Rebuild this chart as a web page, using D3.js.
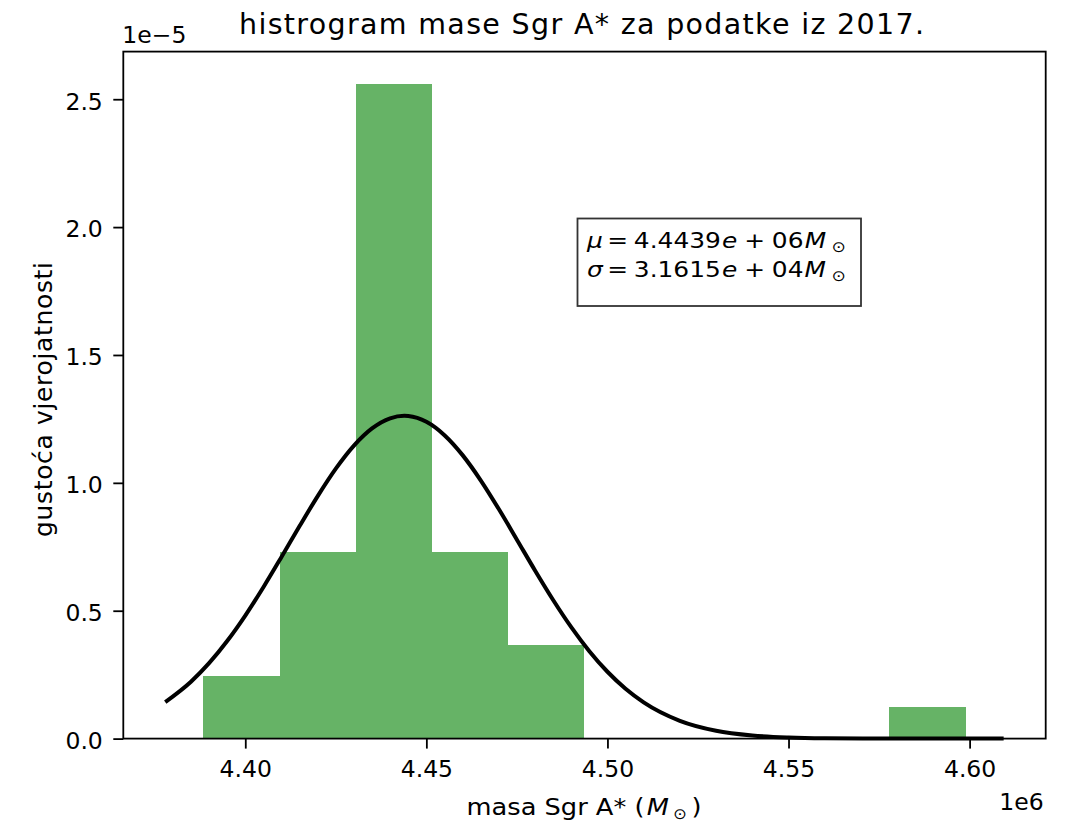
<!DOCTYPE html>
<html>
<head>
<meta charset="utf-8">
<script src="https://cdn.jsdelivr.net/npm/d3@7"></script>
<style>
  body { margin: 0; background: #fff; }
  text { font-family: "DejaVu Sans", sans-serif; fill: #000; }
</style>
</head>
<body>
<div id="chart"></div>
<script>
// histogram (density) of Sgr A* mass, x in units of 1e6 M_sun, y in units of 1e-5
const binEdges = [4.38842, 4.40947, 4.43052, 4.45156, 4.47261, 4.49366,
                  4.51471, 4.53576, 4.55680, 4.57785, 4.59890];
const density  = [0.2436, 0.7308, 2.5583, 0.7308, 0.3654, 0, 0, 0, 0, 0.1218];

// fitted normal curve
const curveX = [4.3779, 4.385, 4.390, 4.395, 4.400, 4.405, 4.410, 4.415, 4.420, 4.425,
                4.430, 4.435, 4.440, 4.4439, 4.445, 4.450, 4.455, 4.460, 4.465, 4.470,
                4.475, 4.480, 4.485, 4.490, 4.495, 4.500, 4.505, 4.510, 4.520, 4.530,
                4.540, 4.550, 4.560, 4.580, 4.6094];
const curveY = [0.1429, 0.2225, 0.2950, 0.3815, 0.4812, 0.5920, 0.7102, 0.8310, 0.9482, 1.0555,
                1.1457, 1.2128, 1.2523, 1.2619, 1.2611, 1.2387, 1.1864, 1.1084, 1.0100, 0.8975,
                0.7779, 0.6575, 0.5421, 0.4359, 0.3418, 0.2614, 0.1950, 0.1418, 0.0697, 0.0309,
                0.0124, 0.0045, 0.0015, 0.0001, 0.0000];

const xTicks = [4.40, 4.45, 4.50, 4.55, 4.60];
const yTicks = [0.0, 0.5, 1.0, 1.5, 2.0, 2.5];

const statLines = [
  { sym: "μ", num: "4.4439", exp: "06" },
  { sym: "σ", num: "3.1615", exp: "04" }
];

const width = 1069;
const height = 827;
const plot = { left: 123.3, right: 1045.7, top: 51.6, bottom: 738.6 };
const fs = 23.5;

const svg = d3.select("#chart")
  .append("svg")
  .attr("width", width)
  .attr("height", height);

const x = d3.scaleLinear()
  .domain([4.36632, 4.62101])
  .range([plot.left, plot.right]);

const y = d3.scaleLinear()
  .domain([0, 2.6862])
  .range([plot.bottom, plot.top]);

// lays out a row of text pieces one after another (mathtext-like),
// then stretches the row horizontally to the wanted width
function mathRow(x0, y0, parts, targetW) {
  const g = svg.append("g");
  let cx = x0;
  parts.forEach(p => {
    cx += p.gap || 0;
    const t = g.append("text")
      .attr("x", cx)
      .attr("y", y0 + (p.dy || 0))
      .style("font-size", p.size + "px")
      .style("font-style", p.italic ? "italic" : "normal")
      .text(p.t);
    cx += t.node().getComputedTextLength();
  });
  if (targetW) {
    const s = targetW / (cx - x0);
    g.attr("transform", `translate(${x0},0) scale(${s},1) translate(${-x0},0)`);
  }
}

// bars
const bins = density.map((v, i) => ({ x0: binEdges[i], x1: binEdges[i + 1], v }));
svg.append("g")
  .attr("shape-rendering", "crispEdges")
  .selectAll("rect")
  .data(bins.filter(d => d.v > 0))
  .join("rect")
  .attr("x", d => x(d.x0))
  .attr("width", d => x(d.x1) - x(d.x0))
  .attr("y", d => y(d.v))
  .attr("height", d => y(0) - y(d.v))
  .attr("fill", "#008000")
  .attr("fill-opacity", 0.6);

// normal curve
const pts = curveX.map((v, i) => [v, curveY[i]]);
svg.append("path")
  .datum(pts)
  .attr("fill", "none")
  .attr("stroke", "#000")
  .attr("stroke-width", 4)
  .attr("stroke-linejoin", "round")
  .attr("d", d3.line().x(d => x(d[0])).y(d => y(d[1])).curve(d3.curveMonotoneX));

// axes
const xAxis = svg.append("g")
  .attr("transform", `translate(0,${plot.bottom})`)
  .call(d3.axisBottom(x).tickValues(xTicks).tickSize(10).tickFormat(d => d.toFixed(2)));
xAxis.select(".domain").remove();
xAxis.selectAll(".tick line").attr("stroke", "#000").attr("stroke-width", 1.8);
xAxis.selectAll(".tick text")
  .attr("y", 38.2)
  .attr("dy", null)
  .style("font-size", fs + "px");

const yAxis = svg.append("g")
  .attr("transform", `translate(${plot.left},0)`)
  .call(d3.axisLeft(y).tickValues(yTicks).tickSize(10).tickFormat(d => d.toFixed(1)));
yAxis.select(".domain").remove();
yAxis.selectAll(".tick line").attr("stroke", "#000").attr("stroke-width", 1.8);
yAxis.selectAll(".tick text")
  .attr("x", -20.5)
  .attr("dy", "0.42em")
  .style("font-size", fs + "px");

// spines
svg.append("rect")
  .attr("x", plot.left)
  .attr("y", plot.top)
  .attr("width", plot.right - plot.left)
  .attr("height", plot.bottom - plot.top)
  .attr("fill", "none")
  .attr("stroke", "#000")
  .attr("stroke-width", 1.8);

// offset texts
svg.append("text")
  .attr("x", plot.left - 1)
  .attr("y", 43)
  .style("font-size", fs + "px")
  .text("1e\u22125");

svg.append("text")
  .attr("x", plot.right - 2)
  .attr("y", 810)
  .attr("text-anchor", "end")
  .style("font-size", fs + "px")
  .text("1e6");

// title
svg.append("text")
  .attr("x", 239)
  .attr("y", 33.5)
  .attr("textLength", 685)
  .attr("lengthAdjust", "spacing")
  .style("font-size", "28.5px")
  .text("histrogram mase Sgr A* za podatke iz 2017.");

// x label
mathRow(466.5, 815, [
  { t: "masa Sgr A* (", size: fs },
  { t: "M", size: fs, italic: true, gap: 2 },
  { t: "\u2299", size: 15, dy: 4, gap: 4 },
  { t: ")", size: fs, gap: 4 }
], 235);

// y label
svg.append("text")
  .attr("transform", `translate(51.5,537) rotate(-90)`)
  .attr("textLength", 275)
  .attr("lengthAdjust", "spacing")
  .style("font-size", "25px")
  .text("gustoća vjerojatnosti");

// stats box
svg.append("rect")
  .attr("x", 577.5)
  .attr("y", 218.5)
  .attr("width", 283.5)
  .attr("height", 87.5)
  .attr("fill", "#fff")
  .attr("stroke", "#333")
  .attr("stroke-width", 1.8);

statLines.forEach((s, i) => {
  mathRow(587, 248 + i * 29.5, [
    { t: s.sym, size: 22, italic: true },
    { t: "=", size: 22, gap: 4 },
    { t: s.num, size: 22, gap: 5 },
    { t: "e", size: 22, italic: true, gap: 1 },
    { t: "+", size: 22, gap: 6 },
    { t: s.exp, size: 22, gap: 6 },
    { t: "M", size: 22, italic: true, gap: 1 },
    { t: "\u2299", size: 15, dy: 4, gap: 5 }
  ], 259);
});
</script>
</body>
</html>
